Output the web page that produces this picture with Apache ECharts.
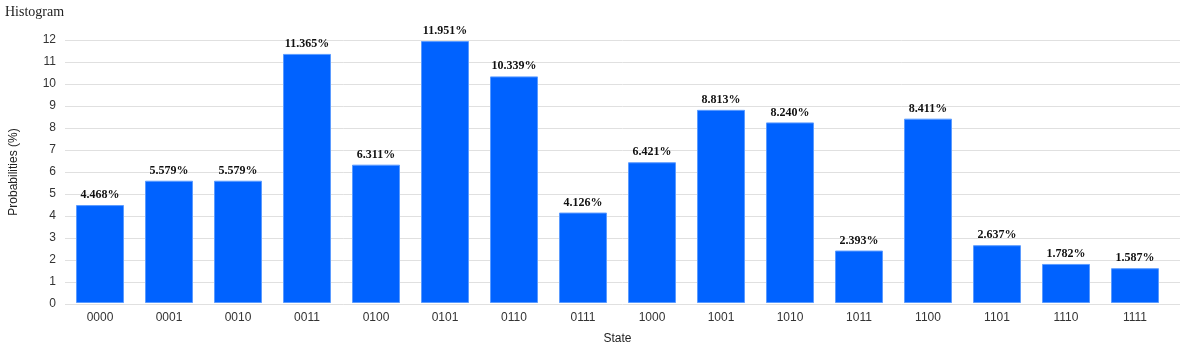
<!DOCTYPE html>
<html>
<head>
<meta charset="utf-8">
<script src="https://cdn.jsdelivr.net/npm/echarts@6/dist/echarts.min.js"></script>
<style>html,body{margin:0;padding:0;background:#fff}#c{width:1200px;height:350px}</style>
</head>
<body>
<div id="c"></div>
<script>
const states = ['0000','0001','0010','0011','0100','0101','0110','0111','1000','1001','1010','1011','1100','1101','1110','1111'];
const probabilities = [4.468,5.579,5.579,11.365,6.311,11.951,10.339,4.126,6.421,8.813,8.240,2.393,8.411,2.637,1.782,1.587];
const yTicks = {min:0, max:12, interval:1};

const chart = echarts.init(document.getElementById('c'), null, {renderer:'canvas'});
chart.setOption({
  animation:false,
  backgroundColor:'#fff',
  title:{text:'Histogram', left:0, top:0, textStyle:{fontFamily:'Liberation Serif', fontWeight:'normal', fontSize:14, color:'#222'}},
  grid:[
    {left:55, right:20, top:40, bottom:46},
    {left:65.5, right:30.5, top:40, bottom:46}
  ],
  xAxis:[
    {type:'category', gridIndex:0, data:states, show:false},
    {
      type:'category', gridIndex:1, data:states, name:'State', nameLocation:'middle', nameGap:30,
      nameTextStyle:{fontFamily:'Liberation Sans', fontSize:12, color:'#222'},
      axisTick:{show:false},
      axisLine:{show:false},
      axisLabel:{fontFamily:'Liberation Sans', fontSize:12, color:'#333', margin:9}
    }
  ],
  yAxis:[
    {
      type:'value', gridIndex:0, min:yTicks.min, max:yTicks.max, interval:yTicks.interval,
      name:'Probabilities (%)', nameLocation:'middle', nameGap:45,
      nameTextStyle:{fontFamily:'Liberation Sans', fontSize:12, color:'#222'},
      axisLine:{show:false}, axisTick:{show:false},
      splitLine:{lineStyle:{color:'#e0e0e0'}},
      axisLabel:{fontFamily:'Liberation Sans', fontSize:12, color:'#333', margin:9}
    },
    {type:'value', gridIndex:1, min:yTicks.min, max:yTicks.max, interval:yTicks.interval, show:false, splitLine:{show:false}}
  ],
  series:[{
    type:'bar', xAxisIndex:1, yAxisIndex:1, data:probabilities, barWidth:48,
    itemStyle:{color:'#0062ff', borderColor:'#5b9bff', borderWidth:1},
    label:{show:true, position:'top', distance:4, fontFamily:'Liberation Serif', fontWeight:'bold', fontSize:12, color:'#111',
      formatter:p=>p.value.toFixed(3)+'%'}
  }]
});
</script>
</body>
</html>
